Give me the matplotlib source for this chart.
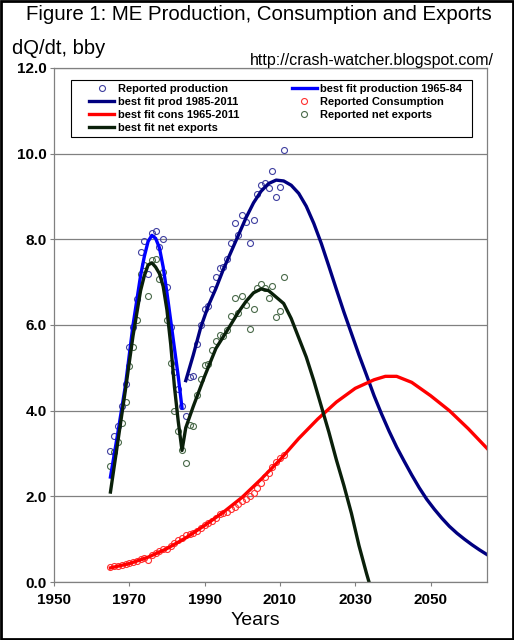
import matplotlib
matplotlib.use("Agg")
import matplotlib.pyplot as plt
from matplotlib.patches import Rectangle

plt.rcParams['font.family'] = ['Liberation Sans', 'DejaVu Sans']

# ==============================
# DATA
# ==============================
years = list(range(1965, 2012))

production = [3.05, 3.41, 3.64, 4.11, 4.63, 5.48, 5.95, 6.61, 7.71, 7.97,
              7.19, 8.14, 8.20, 7.81, 8.01, 6.89, 5.95, 4.90, 4.50, 4.10,
              3.87, 4.78, 4.80, 5.55, 5.99, 6.38, 6.45, 6.85, 7.13, 7.34,
              7.35, 7.53, 7.91, 8.38, 8.11, 8.56, 8.40, 7.91, 8.46, 9.06,
              9.27, 9.32, 9.19, 9.59, 8.98, 9.22, 10.09]

consumption = [0.35, 0.37, 0.38, 0.40, 0.42, 0.44, 0.47, 0.50, 0.53, 0.56,
               0.52, 0.62, 0.67, 0.73, 0.78, 0.77, 0.85, 0.92, 0.98, 1.03,
               1.09, 1.12, 1.15, 1.18, 1.25, 1.32, 1.37, 1.43, 1.50, 1.58,
               1.60, 1.64, 1.70, 1.76, 1.82, 1.88, 1.93, 2.00, 2.08, 2.20,
               2.32, 2.45, 2.55, 2.68, 2.80, 2.90, 2.97]

net_exports = [2.70, 3.04, 3.26, 3.71, 4.21, 5.04, 5.48, 6.11, 7.18, 7.41,
               6.67, 7.52, 7.53, 7.08, 7.23, 6.12, 5.10, 3.98, 3.52, 3.07,
               2.78, 3.66, 3.65, 4.37, 4.74, 5.06, 5.08, 5.42, 5.63, 5.76,
               5.75, 5.89, 6.21, 6.62, 6.29, 6.68, 6.47, 5.91, 6.38, 6.86,
               6.95, 6.87, 6.64, 6.91, 6.18, 6.32, 7.12]

# best fit production 1965-84
fit1_years = [1965, 1967, 1969, 1971, 1973, 1974, 1975, 1976, 1977, 1978,
              1979, 1980, 1981, 1982, 1983, 1984]
fit1_vals = [2.45, 3.5, 4.6, 6.0, 7.15, 7.6, 7.95, 8.09, 8.02, 7.8,
             7.35, 6.75, 6.1, 5.45, 4.8, 4.06]

# best fit prod 1985-2011
fit2_years = [1985, 1987, 1989, 1991, 1993, 1995, 1997, 1999, 2001, 2003,
              2005, 2007, 2009, 2011, 2013, 2015, 2017, 2019, 2021, 2023,
              2025, 2027, 2029, 2031, 2033, 2035, 2037, 2039, 2041, 2043,
              2045, 2047, 2049, 2051, 2053, 2055, 2057, 2059, 2061, 2063, 2065]
fit2_vals = [4.7, 5.3, 5.95, 6.45, 6.85, 7.3, 7.7, 8.1, 8.5, 8.85,
             9.12, 9.3, 9.38, 9.36, 9.26, 9.07, 8.77, 8.37, 7.9, 7.37,
             6.83, 6.3, 5.8, 5.3, 4.83, 4.35, 3.92, 3.52, 3.15, 2.82,
             2.5, 2.2, 1.93, 1.7, 1.49, 1.3, 1.14, 1.0, 0.87, 0.75, 0.64]

# best fit cons 1965-2011
cons_fit_years = [1965, 1970, 1975, 1980, 1985, 1990, 1995, 2000, 2005, 2010,
                  2015, 2020, 2025, 2030, 2035, 2038, 2041, 2045, 2050, 2055,
                  2060, 2065]
cons_fit_vals = [0.33, 0.43, 0.58, 0.78, 1.03, 1.32, 1.63, 1.98, 2.4, 2.85,
                 3.35, 3.8, 4.2, 4.52, 4.72, 4.80, 4.80, 4.66, 4.35, 4.0,
                 3.58, 3.12]

# best fit net exports
nx_fit_years = [1965, 1967, 1969, 1971, 1973, 1974, 1975, 1976, 1977, 1978,
                1979, 1980, 1981, 1982, 1983, 1984, 1985, 1987, 1990, 1993,
                1996, 1999, 2001, 2003, 2005, 2007, 2009, 2011, 2013, 2015,
                2017, 2019, 2021, 2023, 2025, 2027, 2029, 2031, 2033, 2034]
nx_fit_vals = [2.1, 3.3, 4.5, 5.75, 6.8, 7.15, 7.4, 7.45, 7.35, 7.2,
               6.9, 6.35, 5.55, 4.55, 3.75, 3.07, 3.6, 4.1, 4.8, 5.45,
               5.87, 6.3, 6.55, 6.75, 6.84, 6.8, 6.65, 6.5, 6.15, 5.7,
               5.25, 4.7, 4.1, 3.5, 2.85, 2.25, 1.6, 0.85, 0.2, -0.1]

x_ticks = [1950, 1970, 1990, 2010, 2030, 2050]
y_ticks = [0, 2, 4, 6, 8, 10, 12]

# ==============================
# PLOT
# ==============================
fig = plt.figure(figsize=(5.14, 6.4), dpi=100)
ax = fig.add_axes([0.105, 0.0906, 0.8425, 0.8034])

ax.plot(years, production, 'o', ms=4.3, mfc='none', mec='#4040a0', mew=0.8,
        label='Reported production')
ax.plot(years, consumption, 'o', ms=4.3, mfc='none', mec='#ff3030', mew=0.8,
        label='Reported Consumption')
ax.plot(years, net_exports, 'o', ms=4.3, mfc='none', mec='#4a6a4a', mew=0.8,
        label='Reported net exports')

ax.plot(fit1_years, fit1_vals, color='#0000ff', lw=2.4, label='best fit production 1965-84')
ax.plot(fit2_years, fit2_vals, color='#000080', lw=2.4, label='best fit prod 1985-2011')
ax.plot(cons_fit_years, cons_fit_vals, color='#ff0000', lw=2.4, label='best fit cons 1965-2011')
ax.plot(nx_fit_years, nx_fit_vals, color='#0a200a', lw=2.4, label='best fit net exports')

ax.set_xlim(1950, 2065)
ax.set_ylim(0, 12)
ax.set_xticks(x_ticks)
ax.set_xticklabels([str(t) for t in x_ticks], fontsize=11, fontweight='bold')
ax.set_yticks(y_ticks)
ax.set_yticklabels([f"{t:.1f}" for t in y_ticks], fontsize=11, fontweight='bold')
ax.tick_params(axis='both', direction='out', length=3, width=0.8, color='#808080', pad=2)
ax.tick_params(axis='x', pad=5)
ax.grid(axis='y', color='#808080', lw=0.9)
ax.set_axisbelow(True)
for s in ax.spines.values():
    s.set_color('#808080')
    s.set_linewidth(0.9)

# legend: column 1 gets the first four entries
h, l = ax.get_legend_handles_labels()
order = ['Reported production', 'best fit prod 1985-2011', 'best fit cons 1965-2011',
         'best fit net exports', 'best fit production 1965-84', 'Reported Consumption',
         'Reported net exports']
hh = [h[l.index(o)] for o in order]
leg = ax.legend(hh, order, ncol=2, loc='center', mode='expand',
                bbox_to_anchor=(0.074, 0.866, 0.877, 0.111), borderaxespad=0,
                prop={'size': 8.0, 'weight': 'bold'}, frameon=False,
                handlelength=2.25, handletextpad=0.35, labelspacing=0.28,
                borderpad=0.3, columnspacing=1.0)
# legend box drawn separately so the entries sit further in from its left edge
ax.add_patch(Rectangle((0.039, 0.866), 0.926, 0.111, transform=ax.transAxes,
                       fill=True, facecolor='white', edgecolor='black', lw=0.8, zorder=4))
leg.set_zorder(5)

# texts
fig.text(0.504, 0.977, 'Figure 1: ME Production, Consumption and Exports',
         ha='center', va='center', fontsize=14.7)
fig.text(0.023, 0.925, 'dQ/dt, bby', ha='left', va='center', fontsize=14.5)
fig.text(0.96, 0.905, 'http://crash-watcher.blogspot.com/', ha='right', va='center', fontsize=11.5)
fig.text(0.496, 0.031, 'Years', ha='center', va='center', fontsize=14)

# border round the figure
fig.patches.append(Rectangle((0.002, 0.002), 0.996, 0.996, transform=fig.transFigure,
                             fill=False, edgecolor='black', lw=2))

plt.savefig('out.png', dpi=100)
